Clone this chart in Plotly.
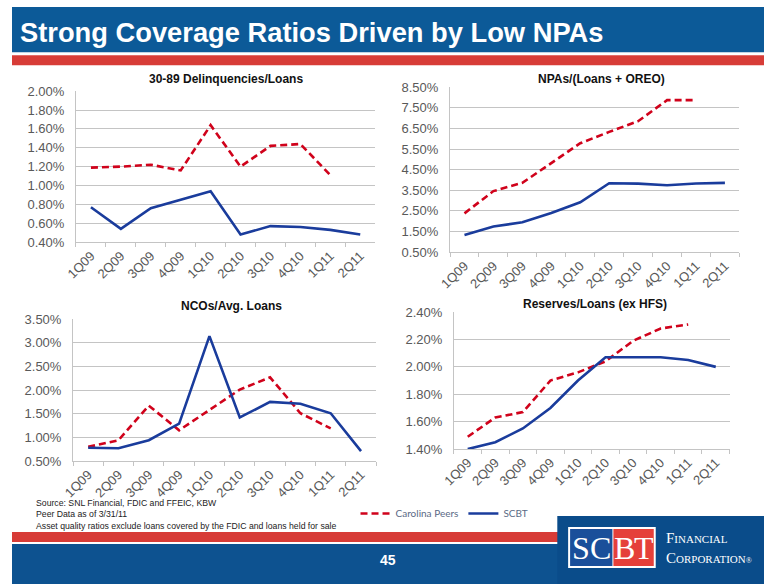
import plotly.graph_objects as go

quarters = ["1Q09", "2Q09", "3Q09", "4Q09", "1Q10", "2Q10", "3Q10", "4Q10", "1Q11", "2Q11"]

# 30-89 Delinquencies/Loans (%)
delinq_peers = [1.19, 1.20, 1.22, 1.16, 1.64, 1.20, 1.42, 1.44, 1.11, None]
delinq_scbt = [0.77, 0.54, 0.76, 0.85, 0.94, 0.48, 0.57, 0.56, 0.53, 0.48]

# NPAs/(Loans + OREO) (%)
npa_peers = [2.38, 3.46, 3.86, 4.83, 5.78, 6.33, 6.85, 7.87, 7.87, None]
npa_scbt = [1.33, 1.74, 1.95, 2.40, 2.92, 3.84, 3.82, 3.74, 3.83, 3.86]

# NCOs/Avg. Loans (%)
nco_peers = [0.80, 0.94, 1.67, 1.15, 1.58, 2.01, 2.27, 1.51, 1.19, None]
nco_scbt = [0.78, 0.77, 0.94, 1.29, 3.14, 1.42, 1.75, 1.71, 1.51, 0.71]

# Reserves/Loans (ex HFS) (%)
res_peers = [1.49, 1.63, 1.67, 1.90, 1.96, 2.04, 2.19, 2.28, 2.31, None]
res_scbt = [1.40, 1.45, 1.55, 1.70, 1.90, 2.07, 2.07, 2.07, 2.05, 2.00]

chart_titles = ["30-89 Delinquencies/Loans", "NPAs/(Loans + OREO)", "NCOs/Avg. Loans", "Reserves/Loans (ex HFS)"]
series_names = ["Carolina Peers", "SCBT"]

# Page keeps an 8px body margin; the capture is slightly compressed vertically.
PAGE_M = 8
VS = 0.975
W, H = 780 - 2 * PAGE_M, 600 - PAGE_M
def px(X): return (X - PAGE_M) / W                  # window pixel -> paper x
def py(Y): return 1 - (Y / VS - PAGE_M) / H         # window pixel -> paper y

RED = "#d0021b"
BLUE = "#1a3c9c"
GRID = "#c4c4c4"
TICKC = "#595959"
FONT = "Arial, Liberation Sans"
SERIF = "Liberation Serif, DejaVu Serif"

panels = [
    dict(data=(delinq_peers, delinq_scbt), dom=(73, 377, 92, 243), rng=(0.4, 2.0), dtick=0.2, tick0=0.4, title_xy=(225, 80)),
    dict(data=(npa_peers, npa_scbt), dom=(453, 747, 88, 253), rng=(0.5, 8.5), dtick=1.0, tick0=0.5, title_xy=(607, 80)),
    dict(data=(nco_peers, nco_scbt), dom=(70, 378, 320, 462), rng=(0.5, 3.5), dtick=0.5, tick0=0.5, title_xy=(231, 307)),
    dict(data=(res_peers, res_scbt), dom=(457, 737, 313, 450), rng=(1.4, 2.4), dtick=0.2, tick0=1.4, title_xy=(600, 305)),
]

fig = go.Figure()
annotations = []
layout_axes = {}
for i, p in enumerate(panels):
    n = "" if i == 0 else str(i + 1)
    xa, ya = "x" + n, "y" + n
    peers, scbt = p["data"]
    fig.add_trace(go.Scatter(x=quarters, y=peers, mode="lines", name=series_names[0],
                             line=dict(color=RED, width=2.6, dash="7px,4px"),
                             xaxis=xa, yaxis=ya, showlegend=(i == 0), legendrank=1))
    fig.add_trace(go.Scatter(x=quarters, y=scbt, mode="lines", name=series_names[1],
                             line=dict(color=BLUE, width=2.6),
                             xaxis=xa, yaxis=ya, showlegend=(i == 0), legendrank=2))
    x0, x1, y0, y1 = p["dom"]
    layout_axes["xaxis" + n] = dict(
        domain=[px(x0), px(x1)], anchor=ya, type="category", categoryarray=quarters,
        range=[-0.5, 9.5], tickangle=-45, showline=True, linecolor=GRID, linewidth=1,
        ticks="outside", tickson="boundaries", ticklen=4, tickcolor=GRID, showgrid=False,
        tickfont=dict(family=FONT, size=13, color=TICKC), fixedrange=True)
    layout_axes["yaxis" + n] = dict(
        domain=[py(y1), py(y0)], anchor=xa, range=list(p["rng"]), dtick=p["dtick"], tick0=p["tick0"],
        tickformat=".2f", ticksuffix="%", showgrid=True, gridcolor=GRID, gridwidth=1,
        showline=True, linecolor=GRID, zeroline=False, ticks="", ticklabelstandoff=8,
        tickfont=dict(family=FONT, size=13, color=TICKC), fixedrange=True)
    tx, ty = p["title_xy"]
    annotations.append(dict(text="<b>" + chart_titles[i] + "</b>", x=px(tx), y=py(ty), xref="paper", yref="paper",
                            showarrow=False, xanchor="center", yanchor="middle",
                            font=dict(family=FONT, size=12, color="#111111")))

# header / footer texts
annotations += [
    dict(text="<b>Strong Coverage Ratios Driven by Low NPAs</b>", x=px(14), y=py(33), xref="paper", yref="paper",
         showarrow=False, xanchor="left", yanchor="middle",
         font=dict(family=FONT, size=27.3, color="white")),
    dict(text="Source: SNL Financial, FDIC and FFEIC, KBW<br>Peer Data as of 3/31/11<br>Asset quality ratios exclude loans covered by the FDIC and loans held for sale",
         x=px(30), y=py(497), xref="paper", yref="paper", showarrow=False, xanchor="left", yanchor="top", align="left",
         font=dict(family=FONT, size=8.7, color="#222222")),
    dict(text="<b>45</b>", x=px(390), y=py(561), xref="paper", yref="paper", showarrow=False,
         xanchor="center", yanchor="middle", font=dict(family=FONT, size=14, color="white")),
    dict(text="F<span style='font-size:11px'>INANCIAL</span><br>C<span style='font-size:11px'>ORPORATION</span><span style='font-size:8px'>\u00ae</span>",
         x=px(670), y=py(549), xref="paper", yref="paper", showarrow=False, xanchor="left", yanchor="middle", align="left",
         font=dict(family=SERIF, size=15, color="white")),
]
for ch, cx in zip("SCBT", [586, 606, 630, 650]):
    annotations.append(dict(text=ch, x=px(cx), y=py(549), xref="paper", yref="paper", showarrow=False,
                            xanchor="center", yanchor="middle",
                            font=dict(family=SERIF, size=32, color="white")))

shapes = [
    # header bar
    dict(type="rect", xref="paper", yref="paper", x0=0, x1=1, y0=py(53), y1=1, fillcolor="#0c5a98", line_width=0, layer="below"),
    dict(type="rect", xref="paper", yref="paper", x0=0, x1=1, y0=py(66), y1=py(56), fillcolor="#d73c37", line_width=0, layer="below"),
    # footer bar
    dict(type="rect", xref="paper", yref="paper", x0=0, x1=1, y0=py(543), y1=py(533), fillcolor="#d73c37", line_width=0, layer="below"),
    dict(type="rect", xref="paper", yref="paper", x0=0, x1=1, y0=0, y1=py(545), fillcolor="#0d5290", line_width=0, layer="below"),
    # logo panel
    dict(type="rect", xref="paper", yref="paper", x0=px(562), x1=1, y0=0, y1=py(517), fillcolor="#0a4c8a", line_width=0, layer="below"),
    dict(type="rect", xref="paper", yref="paper", x0=px(573), x1=px(662), y0=py(569), y1=py(528), fillcolor="white", line_width=0, layer="below"),
    dict(type="rect", xref="paper", yref="paper", x0=px(575), x1=px(618), y0=py(567), y1=py(530), fillcolor="#1a4f9a", line_width=0, layer="below"),
    dict(type="rect", xref="paper", yref="paper", x0=px(619), x1=px(660), y0=py(567), y1=py(530), fillcolor="#e5403a", line_width=0, layer="below"),
]

fig.update_layout(
    width=W, height=H, margin=dict(l=0, r=0, t=0, b=0),
    paper_bgcolor="white", plot_bgcolor="white",
    showlegend=True,
    legend=dict(orientation="h", x=px(357), y=py(500), xanchor="left", yanchor="top",
                font=dict(family="Lato, Open Sans", size=10, color="#5a6a85"),
                bgcolor="rgba(0,0,0,0)", itemwidth=30, tracegroupgap=0),
    annotations=annotations, shapes=shapes, **layout_axes)

fig.write_html("out.html")
